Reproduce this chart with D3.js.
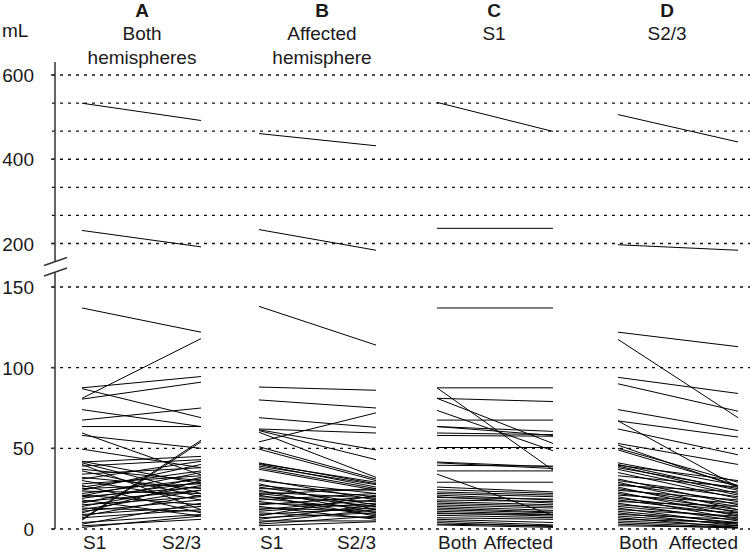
<!DOCTYPE html>
<html><head><meta charset="utf-8">
<script src="https://cdn.jsdelivr.net/npm/d3@7"></script>
<style>body{margin:0;background:#fff}svg{display:block}text{font-family:"Liberation Sans",Arial,sans-serif;fill:#1a1a1a}</style>
</head><body><svg id="c" width="750" height="554"></svg>
<script>
// ---------- data ----------
const panelLetters = ["A", "B", "C", "D"];
const panelTitles = [["Both", "hemispheres"], ["Affected", "hemisphere"], ["S1"], ["S2/3"]];
const panelCats = [["S1", "S2/3"], ["S1", "S2/3"], ["Both", "Affected"], ["Both", "Affected"]];
const upperTicks = [600, 400, 200];
const upperGrid = [600, 533.3, 466.7, 400, 333.3, 266.7, 200];
const lowerTicks = [150, 100, 50, 0];
const unitLabel = "mL";

// Panel A: both hemispheres, S1 -> S2/3
const aFirst  = [533,231,137,87.5,87,81,80.5,74,67.5,63.5,59.5,58,49.5,42,41.5,41,40,39,37,36,34,32,31,30,28,27,26,25,24,23.5,22,21,20.5,20,19,18,17,16,15,14,13,12,11,10,9,8,7,6,5.5,4,3,2,1];
const aSecond = [492,192,122,94.5,69,118,91,63.5,75,63.5,33.5,50,38,28,45,22,12,43,30,20,38,25,42,18,33,10,36,28,40,22,31,15,35,26,29,8,24,32,20,27,11,24,18,30,14,21,12,55,54,9,16,6,8];
// Panel B: affected hemisphere, S1 -> S2/3
const bFirst  = [461,233,138,88,80,69,62,61.5,61,60,54,51,49.5,41,40.5,40,39,38,37,31,30,28,27,26,25,24,23,22,21.5,21,20,19,18,17,16,15,14,13,12,11,10,9,8,7,6,5,4,3,2];
const bSecond = [432,184,114,86,75,63,59.5,49,43,32,72,31,30,28,29,26,27.5,25,24,18,22,12,20,15,24,10,19,14,25,8,17,12,22,9,14,20,6,11,18,16,7,13,21,10,15,5,12,8,4.5];
// Panel C: S1, both -> affected
const cFirst  = [535,236,137,87.5,87.5,81,81,73.5,67.5,63.5,63.5,59.5,58,50.5,41.5,41,39.5,36,34,29,26,24.5,23,22,21,20,19.5,18,17,16,15,14,13,12,11,10,9.5,8.5,7,6,5,4,3,2.5];
const cSecond = [466,236,137,87.5,36.5,79,53,48.5,67.5,60.5,58,58.5,57.5,50.5,38.5,37.5,39,36,8.5,29,23,22,21,20,18,16,18.5,17,15,14,13,11.5,10.5,10,9,8,9,7,6,4,2.5,1.5,2,1];
// Panel D: S2/3, both -> affected
const dFirst  = [506,197,122,117.5,94,90,74,67,67,62,53,52,50,49,41,40,39.5,39,38,37,35,33,31,30,29,28,27,26,25,24,23,22,21,20,19,18,17,16,15,14,13,12,11,10,9,8,7,6,5,4,3,2];
const dSecond = [441,184,113,69,84,73,61,57,26,46,40,26,29,27,27,24,30,22,25,21,19,26,15,20,12,17,23,10,14,18,8,12,16,6,11,9,14,5,10,7,3,8,4,2,6,3,1,4,2,1,0.5,1];

const panelData = [[aFirst, aSecond], [bFirst, bSecond], [cFirst, cSecond], [dFirst, dSecond]];

// ---------- layout ----------
const FS = 19;
const svg = d3.select("#c");
const axisX = 55;
const panelRanges = [[82, 201], [259, 376], [437, 553], [618, 738]];
const titleCenters = [142, 322, 494, 667];

const yUp = d3.scaleLinear().domain([200, 600]).range([243.5, 75]);
const yLo = d3.scaleLinear().domain([0, 150]).range([529, 287]);
const yv = v => v >= 170 ? yUp(v) : yLo(v);

// gridlines
const grid = svg.append("g").attr("stroke", "#111").attr("stroke-width", 1.3).attr("stroke-dasharray", "3,5");
grid.selectAll("line.u").data(upperGrid).join("line")
  .attr("x1", 52).attr("x2", 750).attr("y1", d => yUp(d)).attr("y2", d => yUp(d));
grid.selectAll("line.l").data(lowerTicks).join("line")
  .attr("x1", 52).attr("x2", 750).attr("y1", d => yLo(d)).attr("y2", d => yLo(d));

// axis line with break
const ax = svg.append("g").attr("stroke", "#333").attr("stroke-width", 1.5).attr("fill", "none");
ax.append("line").attr("x1", axisX).attr("x2", axisX).attr("y1", 62).attr("y2", 262);
ax.append("line").attr("x1", axisX).attr("x2", axisX).attr("y1", 272).attr("y2", yLo(0));
ax.append("line").attr("x1", 44).attr("y1", 265.5).attr("x2", 67).attr("y2", 257.5);
ax.append("line").attr("x1", 44).attr("y1", 276).attr("x2", 67).attr("y2", 268);
ax.selectAll("line.t").data(upperTicks).join("line").attr("class", "t")
  .attr("x1", 51).attr("x2", axisX).attr("y1", d => yUp(d)).attr("y2", d => yUp(d));
ax.selectAll("line.t2").data(lowerTicks).join("line").attr("class", "t2")
  .attr("x1", 51).attr("x2", axisX).attr("y1", d => yLo(d)).attr("y2", d => yLo(d));

// tick labels
const tl = svg.append("g").attr("font-size", FS).attr("text-anchor", "end");
tl.selectAll("text.u").data(upperTicks).join("text").attr("x", 34).attr("y", d => yUp(d) + 7).text(d => d);
tl.selectAll("text.l").data(lowerTicks).join("text").attr("x", 34).attr("y", d => yLo(d) + 7).text(d => d);
svg.append("text").attr("x", 2).attr("y", 37).attr("font-size", FS).text(unitLabel);

// panels
panelData.forEach((pd, i) => {
  const [first, second] = pd;
  const x = d3.scalePoint().domain(panelCats[i]).range(panelRanges[i]);
  const g = svg.append("g");
  const pairs = first.map((v, k) => [v, second[k]]);
  g.selectAll("line").data(pairs).join("line")
    .attr("x1", x(panelCats[i][0])).attr("x2", x(panelCats[i][1]))
    .attr("y1", d => yv(d[0])).attr("y2", d => yv(d[1]))
    .attr("stroke", "#000").attr("stroke-width", 1);
  svg.append("text").attr("x", titleCenters[i]).attr("y", 17).attr("text-anchor", "middle")
    .attr("font-size", FS).attr("font-weight", "bold").text(panelLetters[i]);
  panelTitles[i].forEach((t, j) => {
    svg.append("text").attr("x", titleCenters[i]).attr("y", 40 + j * 23.5).attr("text-anchor", "middle")
      .attr("font-size", FS).text(t);
  });
  svg.append("text").attr("x", x(panelCats[i][0]) + 1).attr("y", 549).attr("font-size", FS).text(panelCats[i][0]);
  svg.append("text").attr("x", x(panelCats[i][1])).attr("y", 549).attr("text-anchor", "end").attr("font-size", FS).text(panelCats[i][1]);
});
</script></body></html>
